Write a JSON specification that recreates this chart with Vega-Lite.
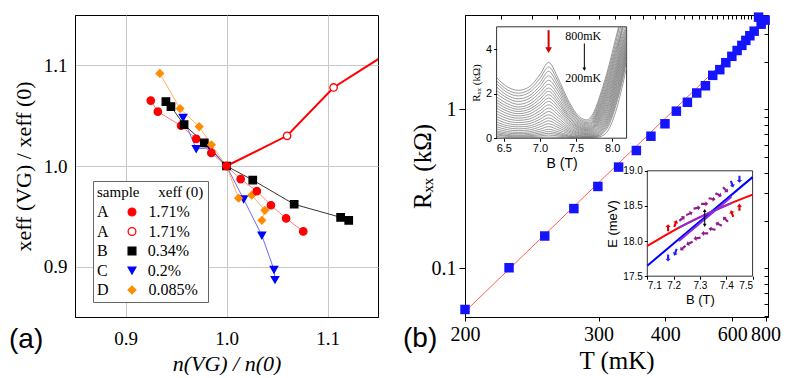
{
  "$schema": "https://vega.github.io/schema/vega-lite/v6.json",
  "padding": {"left": 8, "top": 11, "right": 0, "bottom": 0},
  "spacing": 23,
  "background": "white",
  "resolve": {"scale": {"color": "independent", "fill": "independent", "stroke": "independent", "shape": "independent", "strokeWidth": "independent", "size": "independent", "opacity": "independent", "strokeDash": "independent"}},
  "config": {
    "font": "Liberation Serif",
    "view": {"stroke": "#000", "strokeWidth": 1},
    "axis": {"labelColor": "#000", "titleColor": "#000", "domainColor": "#000", "tickColor": "#000", "titleFontWeight": "normal", "grid": false, "labelFont": "Liberation Serif", "titleFont": "Liberation Serif"},
    "legend": {"labelFont": "Liberation Serif", "titleFont": "Liberation Serif"},
    "title": {"font": "Liberation Sans", "fontWeight": "normal", "color": "#000"}
  },
  "datasets": {
    "a": [
      {"s": "A1", "i": 0, "x": 0.925, "y": 1.065}, {"s": "A1", "i": 1, "x": 0.932, "y": 1.054}, {"s": "A1", "i": 2, "x": 0.955, "y": 1.040}, {"s": "A1", "i": 3, "x": 0.970, "y": 1.027}, {"s": "A1", "i": 4, "x": 0.985, "y": 1.013}, {"s": "A1", "i": 5, "x": 1.0, "y": 1.0}, {"s": "A1", "i": 6, "x": 1.014, "y": 0.987}, {"s": "A1", "i": 7, "x": 1.030, "y": 0.975}, {"s": "A1", "i": 8, "x": 1.044, "y": 0.961}, {"s": "A1", "i": 9, "x": 1.059, "y": 0.948}, {"s": "A1", "i": 10, "x": 1.076, "y": 0.935},
      {"s": "B", "i": 0, "x": 0.940, "y": 1.064}, {"s": "B", "i": 1, "x": 0.945, "y": 1.059}, {"s": "B", "i": 2, "x": 0.958, "y": 1.041}, {"s": "B", "i": 3, "x": 0.978, "y": 1.023}, {"s": "B", "i": 4, "x": 1.0, "y": 1.0}, {"s": "B", "i": 5, "x": 1.026, "y": 0.986}, {"s": "B", "i": 6, "x": 1.067, "y": 0.962}, {"s": "B", "i": 7, "x": 1.113, "y": 0.949}, {"s": "B", "i": 8, "x": 1.121, "y": 0.946},
      {"s": "C", "i": 0, "x": 0.957, "y": 1.048}, {"s": "C", "i": 1, "x": 0.970, "y": 1.017}, {"s": "C", "i": 2, "x": 0.984, "y": 1.018}, {"s": "C", "i": 3, "x": 1.0, "y": 1.0}, {"s": "C", "i": 4, "x": 1.017, "y": 0.967}, {"s": "C", "i": 5, "x": 1.035, "y": 0.931}, {"s": "C", "i": 6, "x": 1.047, "y": 0.897}, {"s": "C", "i": 7, "x": 1.048, "y": 0.887},
      {"s": "D", "i": 0, "x": 0.934, "y": 1.092}, {"s": "D", "i": 1, "x": 0.954, "y": 1.057}, {"s": "D", "i": 2, "x": 0.973, "y": 1.039}, {"s": "D", "i": 3, "x": 0.985, "y": 1.021}, {"s": "D", "i": 4, "x": 1.0, "y": 1.0}, {"s": "D", "i": 5, "x": 1.012, "y": 0.968}, {"s": "D", "i": 6, "x": 1.025, "y": 0.971}, {"s": "D", "i": 7, "x": 1.038, "y": 0.956}, {"s": "D", "i": 8, "x": 1.035, "y": 0.946},
      {"s": "A2", "i": 0, "x": 1.0, "y": 1.0}, {"s": "A2", "i": 1, "x": 1.060, "y": 1.030}, {"s": "A2", "i": 2, "x": 1.106, "y": 1.078}, {"s": "A2", "i": 3, "x": 1.2, "y": 1.138}
    ],
    "bpts": [
      {"T": 200, "R": 0.0552}, {"T": 224.7, "R": 0.101}, {"T": 249.7, "R": 0.160}, {"T": 274.6, "R": 0.238}, {"T": 299.2, "R": 0.328}, {"T": 324.3, "R": 0.434}, {"T": 349.4, "R": 0.552}, {"T": 373.1, "R": 0.679}, {"T": 399.2, "R": 0.813}, {"T": 423.2, "R": 0.976}, {"T": 449.4, "R": 1.11}, {"T": 474.2, "R": 1.27}, {"T": 500, "R": 1.41}, {"T": 523.8, "R": 1.64}, {"T": 549.2, "R": 1.78}, {"T": 572.8, "R": 1.97}, {"T": 598.6, "R": 2.16}, {"T": 623.1, "R": 2.35}, {"T": 646.9, "R": 2.53}, {"T": 668.4, "R": 2.72}, {"T": 691.6, "R": 2.91}, {"T": 718.4, "R": 3.11}, {"T": 748, "R": 3.81}, {"T": 766.3, "R": 3.44}, {"T": 796.8, "R": 3.65}
    ],
    "bfit": [{"T": 200, "R": 0.0535}, {"T": 820, "R": 3.7}],
    "curves": [
      {"c": 1, "B": 6.4, "R": 2.72}, {"c": 1, "B": 6.55, "R": 2.3}, {"c": 1, "B": 6.7, "R": 2.15}, {"c": 1, "B": 6.85, "R": 2.3}, {"c": 1, "B": 7.0, "R": 2.85}, {"c": 1, "B": 7.12, "R": 3.4}, {"c": 1, "B": 7.25, "R": 2.7}, {"c": 1, "B": 7.4, "R": 1.65}, {"c": 1, "B": 7.55, "R": 0.95}, {"c": 1, "B": 7.65, "R": 0.82}, {"c": 1, "B": 7.75, "R": 1.2}, {"c": 1, "B": 7.85, "R": 2.1}, {"c": 1, "B": 7.95, "R": 3.2}, {"c": 1, "B": 8.05, "R": 4.5}, {"c": 1, "B": 8.09, "R": 5.0},
      {"c": 2, "B": 6.4, "R": 2.58}, {"c": 2, "B": 6.55, "R": 2.17}, {"c": 2, "B": 6.7, "R": 2.02}, {"c": 2, "B": 6.85, "R": 2.17}, {"c": 2, "B": 7.0, "R": 2.68}, {"c": 2, "B": 7.12, "R": 3.2}, {"c": 2, "B": 7.25, "R": 2.55}, {"c": 2, "B": 7.4, "R": 1.55}, {"c": 2, "B": 7.55, "R": 0.88}, {"c": 2, "B": 7.65, "R": 0.76}, {"c": 2, "B": 7.75, "R": 1.1}, {"c": 2, "B": 7.85, "R": 1.97}, {"c": 2, "B": 7.95, "R": 3.05}, {"c": 2, "B": 8.05, "R": 4.3}, {"c": 2, "B": 8.1, "R": 5.0},
      {"c": 3, "B": 6.4, "R": 2.45}, {"c": 3, "B": 6.55, "R": 2.05}, {"c": 3, "B": 6.7, "R": 1.9}, {"c": 3, "B": 6.85, "R": 2.05}, {"c": 3, "B": 7.0, "R": 2.5}, {"c": 3, "B": 7.12, "R": 3.0}, {"c": 3, "B": 7.25, "R": 2.4}, {"c": 3, "B": 7.4, "R": 1.45}, {"c": 3, "B": 7.55, "R": 0.82}, {"c": 3, "B": 7.65, "R": 0.7}, {"c": 3, "B": 7.75, "R": 1.0}, {"c": 3, "B": 7.85, "R": 1.85}, {"c": 3, "B": 7.95, "R": 2.9}, {"c": 3, "B": 8.05, "R": 4.1}, {"c": 3, "B": 8.12, "R": 5.0},
      {"c": 4, "B": 6.4, "R": 2.3}, {"c": 4, "B": 6.55, "R": 1.92}, {"c": 4, "B": 6.7, "R": 1.77}, {"c": 4, "B": 6.85, "R": 1.9}, {"c": 4, "B": 7.0, "R": 2.35}, {"c": 4, "B": 7.12, "R": 2.8}, {"c": 4, "B": 7.25, "R": 2.25}, {"c": 4, "B": 7.4, "R": 1.35}, {"c": 4, "B": 7.55, "R": 0.76}, {"c": 4, "B": 7.65, "R": 0.65}, {"c": 4, "B": 7.75, "R": 0.92}, {"c": 4, "B": 7.85, "R": 1.72}, {"c": 4, "B": 7.95, "R": 2.75}, {"c": 4, "B": 8.05, "R": 3.95}, {"c": 4, "B": 8.14, "R": 5.0},
      {"c": 5, "B": 6.4, "R": 2.15}, {"c": 5, "B": 6.55, "R": 1.8}, {"c": 5, "B": 6.7, "R": 1.65}, {"c": 5, "B": 6.85, "R": 1.78}, {"c": 5, "B": 7.0, "R": 2.2}, {"c": 5, "B": 7.12, "R": 2.6}, {"c": 5, "B": 7.25, "R": 2.1}, {"c": 5, "B": 7.4, "R": 1.25}, {"c": 5, "B": 7.55, "R": 0.7}, {"c": 5, "B": 7.65, "R": 0.6}, {"c": 5, "B": 7.75, "R": 0.85}, {"c": 5, "B": 7.85, "R": 1.6}, {"c": 5, "B": 7.95, "R": 2.6}, {"c": 5, "B": 8.05, "R": 3.8}, {"c": 5, "B": 8.15, "R": 5.0},
      {"c": 6, "B": 6.4, "R": 2.0}, {"c": 6, "B": 6.55, "R": 1.68}, {"c": 6, "B": 6.7, "R": 1.52}, {"c": 6, "B": 6.85, "R": 1.65}, {"c": 6, "B": 7.0, "R": 2.05}, {"c": 6, "B": 7.12, "R": 2.42}, {"c": 6, "B": 7.25, "R": 1.95}, {"c": 6, "B": 7.4, "R": 1.15}, {"c": 6, "B": 7.55, "R": 0.65}, {"c": 6, "B": 7.65, "R": 0.55}, {"c": 6, "B": 7.75, "R": 0.78}, {"c": 6, "B": 7.85, "R": 1.5}, {"c": 6, "B": 7.95, "R": 2.48}, {"c": 6, "B": 8.05, "R": 3.65}, {"c": 6, "B": 8.15, "R": 4.85}, {"c": 6, "B": 8.18, "R": 5.0},
      {"c": 7, "B": 6.4, "R": 1.85}, {"c": 7, "B": 6.55, "R": 1.55}, {"c": 7, "B": 6.7, "R": 1.4}, {"c": 7, "B": 6.85, "R": 1.52}, {"c": 7, "B": 7.0, "R": 1.9}, {"c": 7, "B": 7.12, "R": 2.25}, {"c": 7, "B": 7.25, "R": 1.8}, {"c": 7, "B": 7.4, "R": 1.05}, {"c": 7, "B": 7.55, "R": 0.6}, {"c": 7, "B": 7.65, "R": 0.5}, {"c": 7, "B": 7.75, "R": 0.72}, {"c": 7, "B": 7.85, "R": 1.4}, {"c": 7, "B": 7.95, "R": 2.35}, {"c": 7, "B": 8.05, "R": 3.5}, {"c": 7, "B": 8.15, "R": 4.7}, {"c": 7, "B": 8.2, "R": 5.0},
      {"c": 8, "B": 6.4, "R": 1.72}, {"c": 8, "B": 6.55, "R": 1.43}, {"c": 8, "B": 6.7, "R": 1.3}, {"c": 8, "B": 6.85, "R": 1.41}, {"c": 8, "B": 7.0, "R": 1.76}, {"c": 8, "B": 7.12, "R": 2.1}, {"c": 8, "B": 7.25, "R": 1.67}, {"c": 8, "B": 7.4, "R": 0.97}, {"c": 8, "B": 7.55, "R": 0.55}, {"c": 8, "B": 7.65, "R": 0.46}, {"c": 8, "B": 7.75, "R": 0.66}, {"c": 8, "B": 7.85, "R": 1.3}, {"c": 8, "B": 7.95, "R": 2.22}, {"c": 8, "B": 8.05, "R": 3.35}, {"c": 8, "B": 8.15, "R": 4.58}, {"c": 8, "B": 8.2, "R": 4.95},
      {"c": 9, "B": 6.4, "R": 1.6}, {"c": 9, "B": 6.55, "R": 1.32}, {"c": 9, "B": 6.7, "R": 1.2}, {"c": 9, "B": 6.85, "R": 1.3}, {"c": 9, "B": 7.0, "R": 1.62}, {"c": 9, "B": 7.12, "R": 1.95}, {"c": 9, "B": 7.25, "R": 1.55}, {"c": 9, "B": 7.4, "R": 0.9}, {"c": 9, "B": 7.55, "R": 0.5}, {"c": 9, "B": 7.65, "R": 0.42}, {"c": 9, "B": 7.75, "R": 0.6}, {"c": 9, "B": 7.85, "R": 1.2}, {"c": 9, "B": 7.95, "R": 2.1}, {"c": 9, "B": 8.05, "R": 3.2}, {"c": 9, "B": 8.15, "R": 4.45}, {"c": 9, "B": 8.2, "R": 4.9},
      {"c": 10, "B": 6.4, "R": 1.47}, {"c": 10, "B": 6.55, "R": 1.21}, {"c": 10, "B": 6.7, "R": 1.1}, {"c": 10, "B": 6.85, "R": 1.19}, {"c": 10, "B": 7.0, "R": 1.5}, {"c": 10, "B": 7.12, "R": 1.8}, {"c": 10, "B": 7.25, "R": 1.42}, {"c": 10, "B": 7.4, "R": 0.82}, {"c": 10, "B": 7.55, "R": 0.46}, {"c": 10, "B": 7.65, "R": 0.38}, {"c": 10, "B": 7.75, "R": 0.55}, {"c": 10, "B": 7.85, "R": 1.1}, {"c": 10, "B": 7.95, "R": 1.97}, {"c": 10, "B": 8.05, "R": 3.07}, {"c": 10, "B": 8.15, "R": 4.32}, {"c": 10, "B": 8.2, "R": 4.8},
      {"c": 11, "B": 6.4, "R": 1.35}, {"c": 11, "B": 6.55, "R": 1.1}, {"c": 11, "B": 6.7, "R": 1.0}, {"c": 11, "B": 6.85, "R": 1.08}, {"c": 11, "B": 7.0, "R": 1.37}, {"c": 11, "B": 7.12, "R": 1.65}, {"c": 11, "B": 7.25, "R": 1.3}, {"c": 11, "B": 7.4, "R": 0.75}, {"c": 11, "B": 7.55, "R": 0.42}, {"c": 11, "B": 7.65, "R": 0.35}, {"c": 11, "B": 7.75, "R": 0.5}, {"c": 11, "B": 7.85, "R": 1.02}, {"c": 11, "B": 7.95, "R": 1.85}, {"c": 11, "B": 8.05, "R": 2.95}, {"c": 11, "B": 8.15, "R": 4.2}, {"c": 11, "B": 8.2, "R": 4.7},
      {"c": 12, "B": 6.4, "R": 1.22}, {"c": 12, "B": 6.55, "R": 0.99}, {"c": 12, "B": 6.7, "R": 0.9}, {"c": 12, "B": 6.85, "R": 0.97}, {"c": 12, "B": 7.0, "R": 1.23}, {"c": 12, "B": 7.12, "R": 1.5}, {"c": 12, "B": 7.25, "R": 1.17}, {"c": 12, "B": 7.4, "R": 0.67}, {"c": 12, "B": 7.55, "R": 0.37}, {"c": 12, "B": 7.65, "R": 0.31}, {"c": 12, "B": 7.75, "R": 0.45}, {"c": 12, "B": 7.85, "R": 0.93}, {"c": 12, "B": 7.95, "R": 1.72}, {"c": 12, "B": 8.05, "R": 2.82}, {"c": 12, "B": 8.15, "R": 4.07}, {"c": 12, "B": 8.2, "R": 4.6},
      {"c": 13, "B": 6.4, "R": 1.1}, {"c": 13, "B": 6.55, "R": 0.88}, {"c": 13, "B": 6.7, "R": 0.8}, {"c": 13, "B": 6.85, "R": 0.86}, {"c": 13, "B": 7.0, "R": 1.1}, {"c": 13, "B": 7.12, "R": 1.35}, {"c": 13, "B": 7.25, "R": 1.05}, {"c": 13, "B": 7.4, "R": 0.6}, {"c": 13, "B": 7.55, "R": 0.33}, {"c": 13, "B": 7.65, "R": 0.27}, {"c": 13, "B": 7.75, "R": 0.4}, {"c": 13, "B": 7.85, "R": 0.85}, {"c": 13, "B": 7.95, "R": 1.6}, {"c": 13, "B": 8.05, "R": 2.7}, {"c": 13, "B": 8.15, "R": 3.95}, {"c": 13, "B": 8.2, "R": 4.5},
      {"c": 14, "B": 6.4, "R": 0.97}, {"c": 14, "B": 6.55, "R": 0.77}, {"c": 14, "B": 6.7, "R": 0.7}, {"c": 14, "B": 6.85, "R": 0.75}, {"c": 14, "B": 7.0, "R": 0.97}, {"c": 14, "B": 7.12, "R": 1.2}, {"c": 14, "B": 7.25, "R": 0.92}, {"c": 14, "B": 7.4, "R": 0.52}, {"c": 14, "B": 7.55, "R": 0.28}, {"c": 14, "B": 7.65, "R": 0.23}, {"c": 14, "B": 7.75, "R": 0.35}, {"c": 14, "B": 7.85, "R": 0.76}, {"c": 14, "B": 7.95, "R": 1.5}, {"c": 14, "B": 8.05, "R": 2.58}, {"c": 14, "B": 8.15, "R": 3.82}, {"c": 14, "B": 8.2, "R": 4.4},
      {"c": 15, "B": 6.4, "R": 0.85}, {"c": 15, "B": 6.55, "R": 0.66}, {"c": 15, "B": 6.7, "R": 0.6}, {"c": 15, "B": 6.85, "R": 0.65}, {"c": 15, "B": 7.0, "R": 0.85}, {"c": 15, "B": 7.12, "R": 1.05}, {"c": 15, "B": 7.25, "R": 0.8}, {"c": 15, "B": 7.4, "R": 0.45}, {"c": 15, "B": 7.55, "R": 0.24}, {"c": 15, "B": 7.65, "R": 0.2}, {"c": 15, "B": 7.75, "R": 0.3}, {"c": 15, "B": 7.85, "R": 0.68}, {"c": 15, "B": 7.95, "R": 1.38}, {"c": 15, "B": 8.05, "R": 2.45}, {"c": 15, "B": 8.15, "R": 3.7}, {"c": 15, "B": 8.2, "R": 4.3},
      {"c": 16, "B": 6.4, "R": 0.73}, {"c": 16, "B": 6.55, "R": 0.56}, {"c": 16, "B": 6.7, "R": 0.51}, {"c": 16, "B": 6.85, "R": 0.55}, {"c": 16, "B": 7.0, "R": 0.73}, {"c": 16, "B": 7.12, "R": 0.91}, {"c": 16, "B": 7.25, "R": 0.69}, {"c": 16, "B": 7.4, "R": 0.38}, {"c": 16, "B": 7.55, "R": 0.2}, {"c": 16, "B": 7.65, "R": 0.16}, {"c": 16, "B": 7.75, "R": 0.25}, {"c": 16, "B": 7.85, "R": 0.6}, {"c": 16, "B": 7.95, "R": 1.26}, {"c": 16, "B": 8.05, "R": 2.32}, {"c": 16, "B": 8.15, "R": 3.57}, {"c": 16, "B": 8.2, "R": 4.2},
      {"c": 17, "B": 6.4, "R": 0.62}, {"c": 17, "B": 6.55, "R": 0.47}, {"c": 17, "B": 6.7, "R": 0.42}, {"c": 17, "B": 6.85, "R": 0.46}, {"c": 17, "B": 7.0, "R": 0.62}, {"c": 17, "B": 7.12, "R": 0.78}, {"c": 17, "B": 7.25, "R": 0.58}, {"c": 17, "B": 7.4, "R": 0.32}, {"c": 17, "B": 7.55, "R": 0.16}, {"c": 17, "B": 7.65, "R": 0.13}, {"c": 17, "B": 7.75, "R": 0.21}, {"c": 17, "B": 7.85, "R": 0.52}, {"c": 17, "B": 7.95, "R": 1.15}, {"c": 17, "B": 8.05, "R": 2.2}, {"c": 17, "B": 8.15, "R": 3.45}, {"c": 17, "B": 8.2, "R": 4.1},
      {"c": 18, "B": 6.4, "R": 0.52}, {"c": 18, "B": 6.55, "R": 0.38}, {"c": 18, "B": 6.7, "R": 0.34}, {"c": 18, "B": 6.85, "R": 0.37}, {"c": 18, "B": 7.0, "R": 0.51}, {"c": 18, "B": 7.12, "R": 0.65}, {"c": 18, "B": 7.25, "R": 0.48}, {"c": 18, "B": 7.4, "R": 0.26}, {"c": 18, "B": 7.55, "R": 0.12}, {"c": 18, "B": 7.65, "R": 0.1}, {"c": 18, "B": 7.75, "R": 0.17}, {"c": 18, "B": 7.85, "R": 0.45}, {"c": 18, "B": 7.95, "R": 1.05}, {"c": 18, "B": 8.05, "R": 2.07}, {"c": 18, "B": 8.15, "R": 3.32}, {"c": 18, "B": 8.2, "R": 4.0},
      {"c": 19, "B": 6.4, "R": 0.42}, {"c": 19, "B": 6.55, "R": 0.3}, {"c": 19, "B": 6.7, "R": 0.26}, {"c": 19, "B": 6.85, "R": 0.29}, {"c": 19, "B": 7.0, "R": 0.4}, {"c": 19, "B": 7.12, "R": 0.52}, {"c": 19, "B": 7.25, "R": 0.38}, {"c": 19, "B": 7.4, "R": 0.2}, {"c": 19, "B": 7.55, "R": 0.09}, {"c": 19, "B": 7.65, "R": 0.07}, {"c": 19, "B": 7.75, "R": 0.13}, {"c": 19, "B": 7.85, "R": 0.38}, {"c": 19, "B": 7.95, "R": 0.95}, {"c": 19, "B": 8.05, "R": 1.95}, {"c": 19, "B": 8.15, "R": 3.2}, {"c": 19, "B": 8.2, "R": 3.9},
      {"c": 20, "B": 6.4, "R": 0.33}, {"c": 20, "B": 6.55, "R": 0.23}, {"c": 20, "B": 6.7, "R": 0.2}, {"c": 20, "B": 6.85, "R": 0.22}, {"c": 20, "B": 7.0, "R": 0.31}, {"c": 20, "B": 7.12, "R": 0.4}, {"c": 20, "B": 7.25, "R": 0.29}, {"c": 20, "B": 7.4, "R": 0.14}, {"c": 20, "B": 7.55, "R": 0.06}, {"c": 20, "B": 7.65, "R": 0.05}, {"c": 20, "B": 7.75, "R": 0.1}, {"c": 20, "B": 7.85, "R": 0.32}, {"c": 20, "B": 7.95, "R": 0.85}, {"c": 20, "B": 8.05, "R": 1.82}, {"c": 20, "B": 8.15, "R": 3.07}, {"c": 20, "B": 8.2, "R": 3.8},
      {"c": 21, "B": 6.4, "R": 0.26}, {"c": 21, "B": 6.55, "R": 0.17}, {"c": 21, "B": 6.7, "R": 0.14}, {"c": 21, "B": 6.85, "R": 0.16}, {"c": 21, "B": 7.0, "R": 0.23}, {"c": 21, "B": 7.12, "R": 0.3}, {"c": 21, "B": 7.25, "R": 0.22}, {"c": 21, "B": 7.4, "R": 0.1}, {"c": 21, "B": 7.55, "R": 0.04}, {"c": 21, "B": 7.65, "R": 0.03}, {"c": 21, "B": 7.75, "R": 0.07}, {"c": 21, "B": 7.85, "R": 0.26}, {"c": 21, "B": 7.95, "R": 0.75}, {"c": 21, "B": 8.05, "R": 1.7}, {"c": 21, "B": 8.15, "R": 2.95}, {"c": 21, "B": 8.2, "R": 3.7},
      {"c": 22, "B": 6.4, "R": 0.2}, {"c": 22, "B": 6.55, "R": 0.12}, {"c": 22, "B": 6.7, "R": 0.1}, {"c": 22, "B": 6.85, "R": 0.11}, {"c": 22, "B": 7.0, "R": 0.16}, {"c": 22, "B": 7.12, "R": 0.22}, {"c": 22, "B": 7.25, "R": 0.16}, {"c": 22, "B": 7.4, "R": 0.07}, {"c": 22, "B": 7.55, "R": 0.02}, {"c": 22, "B": 7.65, "R": 0.02}, {"c": 22, "B": 7.75, "R": 0.05}, {"c": 22, "B": 7.85, "R": 0.21}, {"c": 22, "B": 7.95, "R": 0.65}, {"c": 22, "B": 8.05, "R": 1.57}, {"c": 22, "B": 8.15, "R": 2.82}, {"c": 22, "B": 8.2, "R": 3.57},
      {"c": 23, "B": 6.4, "R": 0.15}, {"c": 23, "B": 6.55, "R": 0.08}, {"c": 23, "B": 6.7, "R": 0.06}, {"c": 23, "B": 6.85, "R": 0.07}, {"c": 23, "B": 7.0, "R": 0.1}, {"c": 23, "B": 7.12, "R": 0.14}, {"c": 23, "B": 7.25, "R": 0.1}, {"c": 23, "B": 7.4, "R": 0.04}, {"c": 23, "B": 7.55, "R": 0.01}, {"c": 23, "B": 7.65, "R": 0.01}, {"c": 23, "B": 7.75, "R": 0.03}, {"c": 23, "B": 7.85, "R": 0.16}, {"c": 23, "B": 7.95, "R": 0.55}, {"c": 23, "B": 8.05, "R": 1.45}, {"c": 23, "B": 8.15, "R": 2.7}, {"c": 23, "B": 8.2, "R": 3.45},
      {"c": 24, "B": 6.4, "R": 0.08}, {"c": 24, "B": 6.55, "R": 0.03}, {"c": 24, "B": 6.7, "R": 0.02}, {"c": 24, "B": 6.85, "R": 0.025}, {"c": 24, "B": 7.0, "R": 0.04}, {"c": 24, "B": 7.12, "R": 0.055}, {"c": 24, "B": 7.25, "R": 0.04}, {"c": 24, "B": 7.4, "R": 0.015}, {"c": 24, "B": 7.55, "R": 0.005}, {"c": 24, "B": 7.65, "R": 0.005}, {"c": 24, "B": 7.75, "R": 0.015}, {"c": 24, "B": 7.85, "R": 0.09}, {"c": 24, "B": 7.95, "R": 0.38}, {"c": 24, "B": 8.05, "R": 1.2}, {"c": 24, "B": 8.15, "R": 2.45}, {"c": 24, "B": 8.2, "R": 3.2}
    ],
    "elines": [
      {"s": "red", "B": 7.1, "E": 17.93}, {"s": "red", "B": 7.2, "E": 18.15}, {"s": "red", "B": 7.3, "E": 18.34}, {"s": "red", "B": 7.4, "E": 18.51}, {"s": "red", "B": 7.5, "E": 18.66},
      {"s": "blue", "B": 7.1, "E": 17.65}, {"s": "blue", "B": 7.5, "E": 18.91},
      {"s": "mix1", "B": 7.22, "E": 18.19}, {"s": "mix1", "B": 7.3, "E": 18.34}, {"s": "mix1", "B": 7.42, "E": 18.54},
      {"s": "mix2", "B": 7.22, "E": 18.0}, {"s": "mix2", "B": 7.42, "E": 18.63}
    ],
    "spins": [
      {"B": 7.179, "E": 18.19, "a": 0, "col": "r"}, {"B": 7.207, "E": 18.25, "a": 20, "col": "r"}, {"B": 7.232, "E": 18.32, "a": 50, "col": "p"}, {"B": 7.260, "E": 18.39, "a": 65, "col": "p"}, {"B": 7.289, "E": 18.47, "a": 80, "col": "p"}, {"B": 7.318, "E": 18.53, "a": 90, "col": "p"}, {"B": 7.346, "E": 18.60, "a": 100, "col": "p"}, {"B": 7.371, "E": 18.66, "a": 115, "col": "p"}, {"B": 7.397, "E": 18.73, "a": 135, "col": "p"}, {"B": 7.422, "E": 18.81, "a": 160, "col": "b"}, {"B": 7.45, "E": 18.88, "a": 180, "col": "b"},
      {"B": 7.179, "E": 17.76, "a": 180, "col": "b"}, {"B": 7.207, "E": 17.84, "a": 200, "col": "b"}, {"B": 7.235, "E": 17.90, "a": 230, "col": "p"}, {"B": 7.260, "E": 17.97, "a": 245, "col": "p"}, {"B": 7.289, "E": 18.04, "a": 260, "col": "p"}, {"B": 7.318, "E": 18.11, "a": 270, "col": "p"}, {"B": 7.346, "E": 18.17, "a": 280, "col": "p"}, {"B": 7.371, "E": 18.24, "a": 295, "col": "p"}, {"B": 7.397, "E": 18.31, "a": 315, "col": "p"}, {"B": 7.422, "E": 18.39, "a": 340, "col": "r"}, {"B": 7.45, "E": 18.48, "a": 0, "col": "r"}
    ]
  },
  "hconcat": [
    {
      "width": 303,
      "height": 302,
      "title": {"text": "(a)", "orient": "bottom", "anchor": "start", "frame": "group", "dx": -66, "dy": -52, "fontSize": 28},
      "data": {"name": "a"},
      "encoding": {
        "x": {"field": "x", "type": "quantitative", "scale": {"domain": [0.85, 1.15], "nice": false, "zero": false},
              "axis": {"values": [0.9, 1.0, 1.1], "format": ".1f", "grid": true, "gridColor": "#c8c8c8", "tickSize": 0, "labelPadding": 12, "labelFontSize": 19, "title": "n(VG) / n(0)", "titleFontSize": 22, "titleFontStyle": "italic", "titlePadding": 5}},
        "y": {"field": "y", "type": "quantitative", "scale": {"domain": [0.85, 1.15], "nice": false, "zero": false},
              "axis": {"values": [0.9, 1.0, 1.1], "format": ".1f", "grid": true, "gridColor": "#c8c8c8", "tickSize": 0, "labelPadding": 8, "labelFontSize": 19, "title": "xeff (VG) / xeff (0)", "titleFontSize": 22, "titlePadding": 8}},
        "order": {"field": "i", "type": "quantitative"}
      },
      "layer": [
        {"transform": [{"filter": "datum.s === 'A1'"}], "mark": {"type": "line", "clip": true, "color": "#ff8080", "strokeWidth": 1}},
        {"transform": [{"filter": "datum.s === 'B'"}], "mark": {"type": "line", "clip": true, "color": "#000000", "strokeWidth": 0.8}},
        {"transform": [{"filter": "datum.s === 'C'"}], "mark": {"type": "line", "clip": true, "color": "#6b6bff", "strokeWidth": 1}},
        {"transform": [{"filter": "datum.s === 'D'"}], "mark": {"type": "line", "clip": true, "color": "#ffb060", "strokeWidth": 1}},
        {"transform": [{"filter": "datum.s === 'A2'"}], "mark": {"type": "line", "clip": true, "color": "#ff0000", "strokeWidth": 2}},
        {
          "mark": {"type": "point", "clip": true, "opacity": 1, "strokeWidth": 1.3, "size": 55},
          "encoding": {
            "fill": {"field": "s", "type": "nominal", "scale": {"domain": ["A1", "A2", "B", "C", "D"], "range": ["#ff0000", "#ffffff", "#000000", "#0000ff", "#ff8c00"]},
                      "legend": {
                        "orient": "none", "legendX": 18, "legendY": 166,
                        "title": "sample\u00a0\u00a0\u00a0\u00a0\u00a0xeff (0)", "titleFontSize": 15, "titleFontWeight": "normal", "titleFont": "Liberation Serif", "titlePadding": 4,
                        "labelFont": "Liberation Serif", "labelFontSize": 16, "rowPadding": 3.5,
                        "padding": 4, "fillColor": "white", "strokeColor": "#666", "symbolSize": 60, "symbolStrokeWidth": 1.3,
                        "symbolOffset": 27, "labelOffset": -43,
                        "labelExpr": "datum.value === 'B' ? 'B\u00a0\u00a0\u00a0\u00a0\u00a0\u00a0\u00a0\u00a0\u00a0\u00a00.34%' : datum.value === 'C' ? 'C\u00a0\u00a0\u00a0\u00a0\u00a0\u00a0\u00a0\u00a0\u00a0\u00a00.2%' : datum.value === 'D' ? 'D\u00a0\u00a0\u00a0\u00a0\u00a0\u00a0\u00a0\u00a0\u00a0\u00a00.085%' : 'A\u00a0\u00a0\u00a0\u00a0\u00a0\u00a0\u00a0\u00a0\u00a0\u00a01.71%'"
                      }},
            "stroke": {"field": "s", "type": "nominal", "scale": {"domain": ["A1", "A2", "B", "C", "D"], "range": ["#ff0000", "#ff0000", "#000000", "#0000ff", "#ff8c00"]}},
            "shape": {"field": "s", "type": "nominal", "scale": {"domain": ["A1", "A2", "B", "C", "D"], "range": ["circle", "circle", "square", "triangle-down", "diamond"]}}
          }
        }
      ]
    },
    {
      "width": 303,
      "height": 302,
      "title": {"text": "(b)", "orient": "bottom", "anchor": "start", "frame": "group", "dx": -62, "dy": -52, "fontSize": 28},
      "layer": [
        {
          "layer": [
            {
              "data": {"name": "bfit"},
              "mark": {"type": "line", "color": "#ff5a5a", "strokeWidth": 1, "clip": true},
              "encoding": {
                "x": {"field": "T", "type": "quantitative", "scale": {"type": "pow", "exponent": -1, "domain": [200, 820], "nice": false, "zero": false},
                      "axis": {"orient": "bottom", "values": [200, 300, 400, 600, 800], "title": "T (mK)", "labelFontSize": 20, "titleFontSize": 25, "tickSize": 4, "labelPadding": 3, "titlePadding": 4, "labelOverlap": false, "labelFlush": false, "grid": false}},
                "y": {"field": "R", "type": "quantitative", "scale": {"type": "log", "domain": [0.0495, 3.93], "nice": false},
                      "axis": {"orient": "left", "values": [0.1, 1], "format": "~g", "title": "Rₓₓ (kΩ)", "labelFontSize": 20, "titleFontSize": 25, "tickSize": 6, "labelPadding": 3, "titlePadding": -4, "grid": false}}
              }
            },
            {
              "data": {"name": "bpts"},
              "mark": {"type": "square", "color": "#1414ff", "size": 90, "opacity": 1},
              "encoding": {
                "x": {"field": "T", "type": "quantitative",
                      "axis": {"orient": "top", "values": [200, 220, 240, 260, 280, 300, 320, 340, 360, 380, 400, 420, 440, 460, 480, 500, 520, 540, 560, 580, 600, 620, 640, 660, 680, 700, 720, 740, 760, 780, 800], "labels": false, "title": null, "tickSize": -4, "domain": false, "grid": false}},
                "y": {"field": "R", "type": "quantitative",
                      "axis": {"orient": "right", "values": [0.05, 0.06, 0.07, 0.08, 0.09, 0.1, 0.2, 0.3, 0.4, 0.5, 0.6, 0.7, 0.8, 0.9, 1, 2, 3], "labels": false, "title": null, "tickSize": -4, "domain": false, "grid": false}}
              }
            }
          ],
          "resolve": {"axis": {"x": "independent", "y": "independent"}}
        },
        {
          "layer": [
            {
              "data": {"values": [{"x1": 6.4, "x2": 8.2, "y1": 0, "y2": 5}]},
              "mark": {"type": "rect", "fill": "white", "stroke": "#333", "strokeWidth": 1},
              "encoding": {
                "x": {"field": "x1", "type": "quantitative", "scale": {"domain": [6.4, 8.2], "range": [31.6, 161.6], "nice": false, "zero": false},
                      "axis": {"orient": "bottom", "offset": -178.8, "values": [6.5, 7.0, 7.5, 8.0], "format": ".1f", "title": "B (T)", "labelFont": "Liberation Sans", "labelFontSize": 11, "titleFont": "Liberation Sans", "titleFontSize": 14, "tickSize": 3, "labelPadding": 1, "titlePadding": 3, "domain": false, "grid": false, "zindex": 1}},
                "x2": {"field": "x2"},
                "y": {"field": "y1", "type": "quantitative", "scale": {"domain": [0, 5], "range": [123.2, 11.8], "nice": false},
                      "axis": {"orient": "left", "offset": -31.6, "values": [0, 2, 4], "format": "d", "title": "Rₓₓ (kΩ)", "labelFont": "Liberation Sans", "labelFontSize": 11, "titleFont": "Liberation Serif", "titleFontSize": 11, "tickSize": 3, "labelPadding": 2, "titlePadding": 4, "domain": false, "grid": false, "zindex": 1}},
                "y2": {"field": "y2"}
              }
            },
            {
              "data": {"name": "curves"},
              "mark": {"type": "line", "color": "#707070", "strokeWidth": 0.7, "interpolate": "monotone"},
              "encoding": {
                "x": {"field": "B", "type": "quantitative"},
                "y": {"field": "R", "type": "quantitative"},
                "detail": {"field": "c", "type": "nominal"}
              }
            },
            {
              "data": {"values": [{"B": 7.12, "R": 4.85, "R2": 3.95}]},
              "layer": [
                {"mark": {"type": "rule", "color": "#d40000", "strokeWidth": 2}, "encoding": {"x": {"field": "B", "type": "quantitative"}, "y": {"field": "R", "type": "quantitative"}, "y2": {"field": "R2"}}},
                {"mark": {"type": "point", "shape": "triangle-down", "filled": true, "color": "#d40000", "size": 45, "opacity": 1}, "encoding": {"x": {"field": "B", "type": "quantitative"}, "y": {"field": "R2", "type": "quantitative"}}}
              ]
            },
            {
              "data": {"values": [{"B": 7.615, "R": 4.25, "R2": 3.1}]},
              "layer": [
                {"mark": {"type": "rule", "color": "#000", "strokeWidth": 1}, "encoding": {"x": {"field": "B", "type": "quantitative"}, "y": {"field": "R", "type": "quantitative"}, "y2": {"field": "R2"}}},
                {"mark": {"type": "point", "shape": "triangle-down", "filled": true, "color": "#000", "size": 14, "opacity": 1}, "encoding": {"x": {"field": "B", "type": "quantitative"}, "y": {"field": "R2", "type": "quantitative"}}}
              ]
            },
            {
              "data": {"values": [{"B": 7.6, "R": 4.6, "t": "800mK"}, {"B": 7.6, "R": 2.68, "t": "200mK"}]},
              "mark": {"type": "text", "font": "Liberation Serif", "fontSize": 12, "align": "center", "baseline": "middle", "color": "#000"},
              "encoding": {"x": {"field": "B", "type": "quantitative"}, "y": {"field": "R", "type": "quantitative"}, "text": {"field": "t"}}
            }
          ]
        },
        {
          "layer": [
            {
              "data": {"values": [{"x1": 7.1, "x2": 7.5, "y1": 17.5, "y2": 19.0}]},
              "mark": {"type": "rect", "fill": "white", "stroke": "#333", "strokeWidth": 1},
              "encoding": {
                "x": {"field": "x1", "type": "quantitative", "scale": {"domain": [7.1, 7.5], "range": [182.3, 287.6], "nice": false, "zero": false},
                      "axis": {"orient": "bottom", "offset": -40.8, "values": [7.1, 7.2, 7.3, 7.4, 7.5], "format": ".1f", "title": "B (T)", "labelFont": "Liberation Sans", "labelFontSize": 10, "titleFont": "Liberation Sans", "titleFontSize": 13, "tickSize": 3, "labelPadding": 1, "titlePadding": 3, "domain": false, "grid": false, "zindex": 1}},
                "x2": {"field": "x2"},
                "y": {"field": "y1", "type": "quantitative", "scale": {"domain": [17.5, 19.0], "range": [261.2, 155.8], "nice": false, "zero": false},
                      "axis": {"orient": "left", "offset": -182.3, "values": [17.5, 18.0, 18.5, 19.0], "format": ".1f", "title": "E (meV)", "labelFont": "Liberation Sans", "labelFontSize": 10, "titleFont": "Liberation Sans", "titleFontSize": 13, "tickSize": 3, "labelPadding": 2, "titlePadding": 3, "domain": false, "grid": false, "zindex": 1}},
                "y2": {"field": "y2"}
              }
            },
            {
              "data": {"name": "elines"},
              "mark": {"type": "line", "interpolate": "monotone"},
              "encoding": {
                "x": {"field": "B", "type": "quantitative"},
                "y": {"field": "E", "type": "quantitative"},
                "stroke": {"field": "s", "type": "nominal", "scale": {"domain": ["red", "blue", "mix1", "mix2"], "range": ["#ff0000", "#0000ff", "#8a2be2", "#8a2be2"]}, "legend": null},
                "strokeWidth": {"field": "s", "type": "nominal", "scale": {"domain": ["red", "blue", "mix1", "mix2"], "range": [2, 2, 1.2, 1.2]}, "legend": null}
              }
            },
            {
              "data": {"name": "spins"},
              "mark": {"type": "point", "shape": "M-0.3,1L0.3,1L0.3,-0.2L0.75,-0.2L0,-1L-0.75,-0.2L-0.3,-0.2Z", "filled": true, "size": 50, "opacity": 1, "strokeWidth": 0},
              "encoding": {
                "x": {"field": "B", "type": "quantitative"},
                "y": {"field": "E", "type": "quantitative"},
                "angle": {"field": "a", "type": "quantitative", "scale": null},
                "fill": {"field": "col", "type": "nominal", "scale": {"domain": ["r", "p", "b"], "range": ["#e00000", "#8e1c8e", "#2020ff"]}, "legend": null}
              }
            },
            {
              "data": {"values": [{"B": 7.318, "E": 18.225, "E2": 18.435}]},
              "layer": [
                {"mark": {"type": "rule", "color": "#000", "strokeWidth": 1}, "encoding": {"x": {"field": "B", "type": "quantitative"}, "y": {"field": "E", "type": "quantitative"}, "y2": {"field": "E2"}}},
                {"mark": {"type": "point", "shape": "triangle-up", "filled": true, "color": "#000", "size": 14, "opacity": 1}, "encoding": {"x": {"field": "B", "type": "quantitative"}, "y": {"field": "E2", "type": "quantitative"}}},
                {"mark": {"type": "point", "shape": "triangle-down", "filled": true, "color": "#000", "size": 14, "opacity": 1}, "encoding": {"x": {"field": "B", "type": "quantitative"}, "y": {"field": "E", "type": "quantitative"}}}
              ]
            }
          ]
        }
      ],
      "resolve": {"scale": {"x": "independent", "y": "independent"}}
    }
  ]
}
